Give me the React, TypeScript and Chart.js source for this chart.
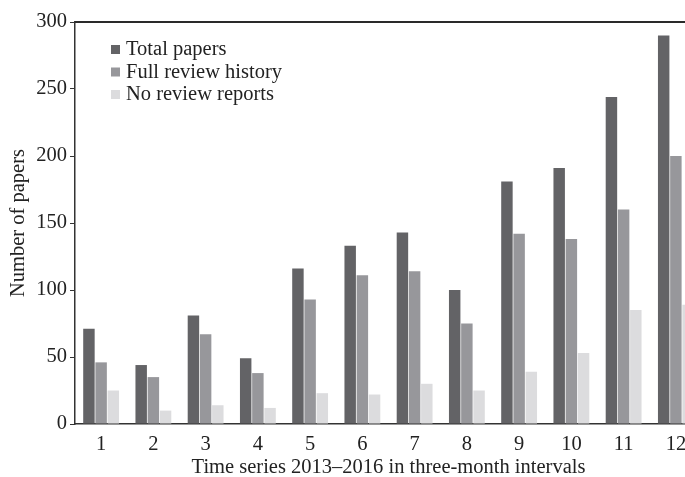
import React, { useEffect, useRef } from "react";
import { Chart, registerables } from "chart.js";

Chart.register(...registerables);

const categories = ["1", "2", "3", "4", "5", "6", "7", "8", "9", "10", "11", "12"];
const totalPapers = [71, 44, 81, 49, 116, 133, 143, 100, 181, 191, 244, 290];
const fullReviewHistory = [46, 35, 67, 38, 93, 111, 114, 75, 142, 138, 160, 200];
const noReviewReports = [25, 10, 14, 12, 23, 22, 30, 25, 39, 53, 85, 89];
const seriesLabels = ["Total papers", "Full review history", "No review reports"];
const seriesColors = ["#636366", "#97979b", "#dcdcde"];

const FONT = '"Liberation Serif", "Times New Roman", serif';
const FS = 20.5;

const decorPlugin = {
  id: "decor",
  afterDraw(chart: any) {
    const ctx = chart.ctx;
    const a = chart.chartArea;
    ctx.save();
    // top border
    ctx.strokeStyle = "#2a2a2a";
    ctx.lineWidth = 2;
    ctx.beginPath();
    ctx.moveTo(a.left, a.top);
    ctx.lineTo(a.right, a.top);
    ctx.stroke();
    // legend
    ctx.font = `${FS}px ${FONT}`;
    ctx.textBaseline = "middle";
    ctx.textAlign = "left";
    chart.data.datasets.forEach((ds: any, i: number) => {
      const y = a.top + 27 + i * 22.5;
      const x = a.left + 36;
      ctx.fillStyle = ds.backgroundColor;
      ctx.fillRect(x, y - 4, 9, 9);
      ctx.fillStyle = "#222";
      ctx.fillText(ds.label, x + 15, y + 1);
    });
    ctx.restore();
  },
};

export default function App() {
  const ref = useRef<HTMLCanvasElement>(null);
  useEffect(() => {
    document.body.style.margin = "0";
    const chart = new Chart(ref.current!, {
      type: "bar",
      data: {
        labels: categories,
        datasets: [totalPapers, fullReviewHistory, noReviewReports].map((d, i) => ({
          label: seriesLabels[i],
          data: d,
          backgroundColor: seriesColors[i],
          borderWidth: 0,
          categoryPercentage: 0.7,
          barPercentage: 0.94,
        })),
      },
      options: {
        responsive: false,
        animation: false,
        layout: { padding: { top: 22, left: 0, right: 0, bottom: 0 } },
        plugins: { legend: { display: false }, tooltip: { enabled: false } },
        scales: {
          x: {
            grid: { drawOnChartArea: false, drawTicks: false },
            border: { display: true, color: "#333", width: 1.5 },
            ticks: { color: "#222", font: { family: FONT, size: FS }, padding: 8, maxRotation: 0 },
            title: {
              display: true,
              text: "Time series 2013–2016 in three-month intervals",
              color: "#222",
              font: { family: FONT, size: FS },
              padding: { top: 0, bottom: -3 },
            },
            afterFit: (s: any) => { s.height = 53; },
          },
          y: {
            min: 0,
            max: 300,
            grid: { drawOnChartArea: false, drawTicks: true, tickLength: 5, color: "#333" },
            border: { display: true, color: "#333", width: 1.5 },
            ticks: { stepSize: 50, color: "#222", font: { family: FONT, size: FS }, padding: 3 },
            title: {
              display: true,
              text: "Number of papers",
              color: "#222",
              font: { family: FONT, size: FS },
              padding: { top: 6, bottom: 0 },
            },
            afterFit: (s: any) => { s.width = 75; },
          },
        },
      },
      plugins: [decorPlugin],
    });
    return () => chart.destroy();
  }, []);
  return (
    <div style={{ width: 685, height: 477, overflow: "hidden", background: "#fff" }}>
      <canvas ref={ref} width={702} height={477} style={{ display: "block" }} />
    </div>
  );
}
